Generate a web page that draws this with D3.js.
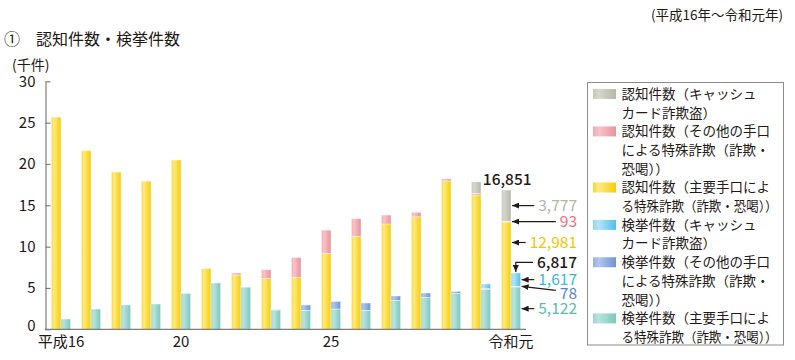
<!DOCTYPE html>
<html>
<head>
<meta charset="utf-8">
<script src="https://cdn.jsdelivr.net/npm/d3@7"></script>
<style>
    body { margin: 0; background: #fff; }
    svg text { font-family: "Noto Sans CJK JP", "Noto Sans", sans-serif; fill: #231815; }
</style>
</head>
<body>
<div id="chart"></div>
<script>
// years 平成16 .. 令和元
const years = ["H16", "H17", "H18", "H19", "H20", "H21", "H22", "H23", "H24", "H25", "H26", "H27", "H28", "H29", "H30", "R1"];
const yearLabels = {"H16": "平成16", "H20": "20", "H25": "25", "R1": "令和元"};
const yTicks = [0, 5, 10, 15, 20, 25, 30];

// 認知件数 (件)
const recMain = [25667, 21612, 19020, 17930, 20481, 7340, 6570, 6160, 6300, 9200, 11250, 12740, 13600, 17950, 16240, 12981];
const recOther = [0, 0, 0, 0, 0, 0, 240, 1056, 2393, 2798, 2142, 1084, 554, 262, 200, 93];
const recCard = [0, 0, 0, 0, 0, 0, 0, 0, 0, 0, 0, 0, 0, 0, 1400, 3777];
// 検挙件数 (件)
const arrMain = [1250, 2450, 2940, 3060, 4350, 5600, 5100, 2330, 2300, 2450, 2300, 3500, 3870, 4350, 4840, 5122];
const arrOther = [0, 0, 0, 0, 0, 0, 0, 60, 640, 930, 880, 530, 520, 240, 90, 78];
const arrCard = [0, 0, 0, 0, 0, 0, 0, 0, 0, 0, 0, 0, 0, 0, 550, 1617];

const legendItems = [
    {key: "recCard", lines: ["認知件数（キャッシュ", "カード詐欺盗）"]},
    {key: "recOther", lines: ["認知件数（その他の手口", "による特殊詐欺（詐欺・", "恐喝））"]},
    {key: "recMain", lines: ["認知件数（主要手口によ", "る特殊詐欺（詐欺・恐喝））"]},
    {key: "arrCard", lines: ["検挙件数（キャッシュ", "カード詐欺盗）"]},
    {key: "arrOther", lines: ["検挙件数（その他の手口", "による特殊詐欺（詐欺・", "恐喝））"]},
    {key: "arrMain", lines: ["検挙件数（主要手口によ", "る特殊詐欺（詐欺・恐喝））"]}
];

// gradient stops per series: left, light, right
const colors = {
    recCard: ["#c2c5b8", "#d6d8cd", "#b4b8a9"],
    recOther: ["#f2a8ae", "#f8c4c8", "#ec919b"],
    recMain: ["#f9d42a", "#feea85", "#f7cd00"],
    arrCard: ["#8fd6f5", "#b4e4f9", "#4fbfee"],
    arrOther: ["#93b0e2", "#b1c6ec", "#6c94d5"],
    arrMain: ["#9ad6ce", "#b9e3dd", "#7ac8bc"]
};

const width = 795, height = 360;
const svg = d3.select("#chart").append("svg")
    .attr("width", width)
    .attr("height", height);

// gradients
let defs = svg.append("defs");
Object.keys(colors).forEach(k => {
    let g = defs.append("linearGradient").attr("id", "g-" + k)
        .attr("x1", 0).attr("x2", 1).attr("y1", 0).attr("y2", 0);
    g.append("stop").attr("offset", "0%").attr("stop-color", colors[k][0]);
    g.append("stop").attr("offset", "25%").attr("stop-color", colors[k][1]);
    g.append("stop").attr("offset", "100%").attr("stop-color", colors[k][2]);
});
defs.append("marker")
    .attr("id", "arrow")
    .attr("markerUnits", "userSpaceOnUse")
    .attr("markerWidth", 8).attr("markerHeight", 6)
    .attr("refX", 7).attr("refY", 3)
    .attr("orient", "auto")
    .append("path")
    .attr("d", "M0,0 L7,3 L0,6 Z")
    .attr("fill", "#231815");

// titles
svg.append("text")
    .attr("x", 783).attr("y", 20)
    .attr("text-anchor", "end")
    .attr("font-size", "13.5px")
    .text("(平成16年～令和元年)");

svg.append("text")
    .attr("x", 4).attr("y", 45)
    .attr("font-size", "16px")
    .text("①");
svg.append("text")
    .attr("x", 36).attr("y", 45)
    .attr("font-size", "16px")
    .text("認知件数・検挙件数");

svg.append("text")
    .attr("x", 12).attr("y", 70)
    .attr("font-size", "14px")
    .text("(千件)");

// scales
let x0 = d3.scaleBand()
    .domain(years)
    .range([46, 526])
    .paddingInner(0.36)
    .paddingOuter(0.18);

let x1 = d3.scaleBand()
    .domain(["rec", "arr"])
    .range([0, x0.bandwidth()]);

let y = d3.scaleLinear()
    .domain([0, 30])
    .range([329.3, 81.3]);

// stacked data (thousands)
let rows = years.map((yr, i) => ({
    year: yr,
    recMain: recMain[i] / 1000, recOther: recOther[i] / 1000, recCard: recCard[i] / 1000,
    arrMain: arrMain[i] / 1000, arrOther: arrOther[i] / 1000, arrCard: arrCard[i] / 1000
}));

let groups = [
    {bar: "rec", keys: ["recMain", "recOther", "recCard"]},
    {bar: "arr", keys: ["arrMain", "arrOther", "arrCard"]}
];

groups.forEach(grp => {
    let series = d3.stack().keys(grp.keys)(rows);
    svg.append("g")
        .selectAll("g")
        .data(series)
        .enter()
        .append("g")
        .attr("fill", d => "url(#g-" + d.key + ")")
        .selectAll("rect")
        .data(d => d.filter(s => s[1] - s[0] > 0))
        .enter()
        .append("rect")
        .attr("x", d => x0(d.data.year) + x1(grp.bar))
        .attr("y", d => y(d[1]))
        .attr("width", x1.bandwidth())
        .attr("height", d => y(d[0]) - y(d[1]))
        .attr("stroke", "#ffffff")
        .attr("stroke-opacity", 0.7)
        .attr("stroke-width", 0.6);
});

// axes
let yAxis = d3.axisLeft(y)
    .tickValues(yTicks)
    .tickSizeInner(-5)
    .tickSizeOuter(0)
    .tickPadding(10);

let yAxisGroup = svg.append("g")
    .attr("class", "axis y-axis")
    .attr("transform", "translate(45.5,0)")
    .call(yAxis);
yAxisGroup.select(".domain").attr("stroke", "#7d7d7d").attr("stroke-width", 1.2);
yAxisGroup.selectAll(".tick line").attr("stroke", "#7d7d7d").attr("stroke-width", 1.2);
yAxisGroup.selectAll(".tick text")
    .attr("font-size", "15px")
    .attr("fill", "#231815")
    .attr("y", d => d === 0 ? -4 : 0)
    .style("font-family", "\"Noto Sans CJK JP\", sans-serif");

let xAxis = d3.axisBottom(x0)
    .tickSize(0)
    .tickPadding(7)
    .tickFormat(d => yearLabels[d] || "");

let xAxisGroup = svg.append("g")
    .attr("class", "axis x-axis")
    .attr("transform", "translate(0,329.3)")
    .call(xAxis);
xAxisGroup.select(".domain").attr("stroke", "#7d7d7d").attr("stroke-width", 1.2)
    .attr("d", "M45,0H526");
xAxisGroup.selectAll(".tick text")
    .attr("font-size", "15px")
    .attr("fill", "#231815")
    .style("font-family", "\"Noto Sans CJK JP\", sans-serif");

// annotations for 令和元
let last = years.length - 1;
let lastYear = years[last];
let recX = x0(lastYear) + x1("rec");
let arrX = x0(lastYear) + x1("arr");
let recRight = recX + x1.bandwidth();
let arrRight = arrX + x1.bandwidth();
let recTotal = (recMain[last] + recOther[last] + recCard[last]) / 1000;
let arrTotal = (arrMain[last] + arrOther[last] + arrCard[last]) / 1000;

svg.append("text")
    .attr("x", recX + x1.bandwidth() / 2 + 1)
    .attr("y", y(recTotal) - 5)
    .attr("text-anchor", "middle")
    .attr("font-size", "15.5px")
    .attr("font-weight", 500)
    .text(d3.format(",")(recTotal * 1000));

let labelRight = 577;
let notes = [
    {text: d3.format(",")(recCard[last]), color: "#b3b6a8", ly: (recMain[last] + recOther[last] + recCard[last] / 2) / 1000, tx: recRight, ty: null},
    {text: d3.format(",")(recOther[last]), color: "#ec6f80", ly: (recMain[last] + recOther[last] / 2) / 1000, tx: recRight, ty: null},
    {text: d3.format(",")(recMain[last]), color: "#f5c400", ly: 10.5, tx: recRight, ty: null},
    {text: d3.format(",")(arrTotal * 1000), color: "#231815", ly: 8.1, tx: null, ty: null, bend: true},
    {text: d3.format(",")(arrCard[last]), color: "#3db6ec", ly: (arrMain[last] + arrOther[last] + arrCard[last] / 2) / 1000, tx: arrRight, ty: null},
    {text: d3.format(",")(arrOther[last]), color: "#5b86cf", ly: 4.35, tx: arrRight, ty: (arrMain[last] + arrOther[last]) / 1000},
    {text: d3.format(",")(arrMain[last]), color: "#57bcae", ly: 2.5, tx: arrRight, ty: null}
];

notes.forEach(n => {
    let t = svg.append("text")
        .attr("x", labelRight)
        .attr("y", y(n.ly))
        .attr("dy", "0.36em")
        .attr("text-anchor", "end")
        .attr("font-size", "15.5px")
        .attr("font-weight", n.color === "#231815" ? 500 : 400)
        .style("fill", n.color)
        .text(n.text);
    let left = labelRight - t.node().getComputedTextLength();
    let ly = y(n.ly);
    if (n.bend) {
        let ax = arrX + x1.bandwidth() / 2;
        svg.append("path")
            .attr("d", `M${left - 4},${ly}H${ax}V${y(arrTotal) - 1}`)
            .attr("fill", "none")
            .attr("stroke", "#231815")
            .attr("stroke-width", 1.2)
            .attr("marker-end", "url(#arrow)");
    } else {
        let ty = n.ty === null ? ly : y(n.ty);
        svg.append("line")
            .attr("x1", left - 4).attr("y1", n.ty === null ? ly : ly - 3)
            .attr("x2", n.tx + 1).attr("y2", ty)
            .attr("stroke", "#231815")
            .attr("stroke-width", 1.2)
            .attr("marker-end", "url(#arrow)");
    }
});

// legend
let legend = svg.append("g").attr("class", "legend");
legend.append("rect")
    .attr("x", 587.5).attr("y", 82.5)
    .attr("width", 196).attr("height", 262.5)
    .attr("fill", "#fff")
    .attr("stroke", "#8c8c8c")
    .attr("stroke-width", 1);

let lineH = 18.7;
let ly0 = 94;
legendItems.forEach(item => {
    legend.append("rect")
        .attr("x", 593).attr("y", ly0 - 5)
        .attr("width", 23).attr("height", 10)
        .attr("fill", "url(#g-" + item.key + ")");
    item.lines.forEach((ln, j) => {
        let t = legend.append("text")
            .attr("x", 621.5)
            .attr("y", ly0 + j * lineH)
            .attr("dy", "0.36em")
            .attr("font-size", "13.5px")
            .text(ln);
        if (t.node().getComputedTextLength() > 158) {
            t.attr("textLength", 156).attr("lengthAdjust", "spacingAndGlyphs");
        }
    });
    ly0 += item.lines.length * lineH;
});
</script>
</body>
</html>
